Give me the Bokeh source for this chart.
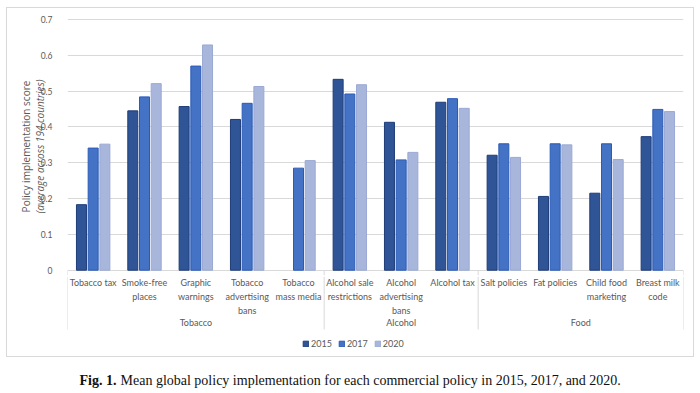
from bokeh.plotting import figure
from bokeh.models import (Range1d, FixedTicker, NumeralTickFormatter, LinearAxis,
                          ColumnDataSource, Legend, LegendItem, Spacer)
from bokeh.layouts import column, row
from bokeh.core.properties import value
from bokeh.embed import file_html
from bokeh.resources import INLINE

# ---------------- data ----------------
categories = ["Tobacco tax", "Smoke-free\nplaces", "Graphic\nwarnings",
              "Tobacco\nadvertising\nbans", "Tobacco\nmass media",
              "Alcohol sale\nrestrictions", "Alcohol\nadvertising\nbans", "Alcohol tax",
              "Salt policies", "Fat policies", "Child food\nmarketing", "Breast milk\ncode"]
groups = ["Tobacco", "Alcohol", "Food"]
group_sizes = [5, 3, 4]
years = ["2015", "2017", "2020"]
NA = float("nan")
v2015 = [0.183, 0.445, 0.457, 0.421, NA, 0.533, 0.413, 0.469, 0.321, 0.206, 0.215, 0.373]
v2017 = [0.341, 0.484, 0.570, 0.466, 0.285, 0.492, 0.308, 0.479, 0.353, 0.353, 0.353, 0.449]
v2020 = [0.352, 0.521, 0.629, 0.513, 0.306, 0.518, 0.329, 0.452, 0.315, 0.350, 0.309, 0.443]
y_ticks = [0, 0.1, 0.2, 0.3, 0.4, 0.5, 0.6, 0.7]
caption_bold = "Fig. 1."
caption_text = "Mean global policy implementation for each commercial policy in 2015, 2017, and 2020."

fills = ["#2F5597", "#4472C4", "#A9B6DC"]
edges = ["#1F3C78", "#2A5BB8", "#9AA9D4"]
GREY = "#595959"
LINE = "#D9D9D9"
FONT = "Lato"
TITLE_FONT = "Open Sans"

# ---------------- geometry ----------------
W = 686
LEFT, RIGHT = 60, 10
H1 = 268
TOP1, BOT1 = 9, 1
ppu = 358.1
zero_from_top = 252.7
ymax = zero_from_top / ppu
frame_h = H1 - TOP1 - BOT1
ymin = -(frame_h - zero_from_top) / ppu
n = len(categories)
xppu = (W - LEFT - RIGHT) / n
xr = Range1d(0, n)

p = figure(width=W, height=H1, output_backend="svg", toolbar_location=None,
           x_range=xr, y_range=Range1d(ymin, ymax),
           min_border_left=LEFT, min_border_right=RIGHT,
           min_border_top=TOP1, min_border_bottom=BOT1)
p.outline_line_color = None
p.xaxis.visible = False
p.xgrid.visible = False
p.ygrid.grid_line_color = LINE
p.ygrid.ticker = FixedTicker(ticks=y_ticks)

ax = p.yaxis[0]
ax.ticker = FixedTicker(ticks=y_ticks)
ax.formatter = NumeralTickFormatter(format="0.[0]")
ax.axis_line_color = None
ax.major_tick_line_color = None
ax.minor_tick_line_color = None
ax.major_tick_out = 0
ax.major_tick_in = 0
ax.major_label_standoff = 15
ax.major_label_text_font = FONT
ax.major_label_text_font_size = "8.5px"
ax.major_label_text_color = GREY
ax.axis_label = "(average across 194 countries)"
ax.axis_label_text_font = TITLE_FONT
ax.axis_label_text_font_size = "10px"
ax.axis_label_text_font_style = "italic"
ax.axis_label_text_color = GREY
ax.axis_label_standoff = -9

ax2 = LinearAxis(ticker=FixedTicker(ticks=[]), axis_line_color=None,
                 major_tick_line_color=None, minor_tick_line_color=None,
                 major_label_text_font_size="0px",
                 axis_label="Policy implementation score",
                 axis_label_text_font=TITLE_FONT, axis_label_text_font_size="10px",
                 axis_label_text_font_style="normal", axis_label_text_color=GREY,
                 axis_label_standoff=-3, major_tick_out=0, major_tick_in=0)
p.add_layout(ax2, "left")

centers = [i + 0.5 for i in range(n)]
bw = 10 / xppu
off = 11.7 / xppu
for k, (yr, vals) in enumerate(zip(years, [v2015, v2017, v2020])):
    xs = [c + (k - 1) * off for c in centers]
    src = ColumnDataSource(dict(x=xs, top=vals))
    p.vbar(x="x", top="top", bottom=0, width=bw, source=src,
           fill_color=fills[k], line_color=edges[k], line_width=1)

bounds = [0]
for s in group_sizes:
    bounds.append(bounds[-1] + s)
p.segment(x0=bounds, y0=[0] * len(bounds), x1=bounds, y1=[ymin] * len(bounds),
          line_color=LINE, line_width=1)

# ---------------- category area ----------------
H2 = 80
q = figure(width=W, height=H2, output_backend="svg", toolbar_location=None,
           x_range=xr, y_range=Range1d(H2, 0),
           min_border_left=LEFT, min_border_right=RIGHT,
           min_border_top=0, min_border_bottom=0)
q.outline_line_color = None
q.axis.visible = False
q.grid.visible = False

q.segment(x0=bounds, y0=[0] * len(bounds), x1=bounds, y1=[53] * len(bounds),
          line_color=LINE, line_width=1)
q.text(x=centers, y=[0.5] * n, text=categories, text_align="center",
       text_baseline="top", text_font=value(FONT), text_font_size="9px",
       text_color=GREY, text_line_height=1.25)
gx = [(bounds[i] + bounds[i + 1]) / 2 for i in range(len(groups))]
q.text(x=gx, y=[46] * len(groups), text=groups, text_align="center",
       text_baseline="middle", text_font=value(FONT), text_font_size="9px",
       text_color=GREY)

# legend (proxy renderers with the same styles as the bars, no visible data)
items = []
for k, yr in enumerate(years):
    r = q.vbar(x=[NA], top=[NA], bottom=[NA], width=bw, fill_color=fills[k],
               line_color=edges[k], line_width=1)
    items.append(LegendItem(label=yr, renderers=[r]))
legend = Legend(items=items, orientation="horizontal", location=(235, 7),
                glyph_width=7, glyph_height=7, label_height=10, label_width=10,
                label_text_font=FONT, label_text_font_size="9px",
                label_text_color=GREY, label_standoff=2, spacing=6, padding=2,
                background_fill_alpha=0, border_line_color=None, margin=0)
q.add_layout(legend)

chart = column(p, q, spacing=0, styles={"border": "1px solid #D9D9D9"})

# ---------------- caption ----------------
H3 = 31
c = figure(width=W + 2, height=H3, output_backend="svg", toolbar_location=None,
           x_range=Range1d(LEFT, W + 2 - RIGHT), y_range=Range1d(0, H3),
           min_border_left=LEFT, min_border_right=RIGHT, min_border_top=0,
           min_border_bottom=0)
c.axis.visible = False
c.grid.visible = False
c.outline_line_color = None
c.text(x=[73], y=[8], text=[caption_bold], text_font=value("Liberation Serif"),
       text_font_size="14px", text_font_style="bold", text_baseline="alphabetic",
       text_color="#111111")
c.text(x=[114], y=[8], text=[caption_text],
       text_font=value("Liberation Serif"), text_font_size="14px",
       text_baseline="alphabetic", text_color="#111111")

layout = column(Spacer(height=7),
                row(Spacer(width=6), column(chart, c, spacing=0), spacing=0),
                spacing=0)
open("out.html", "w").write(file_html(layout, INLINE))
